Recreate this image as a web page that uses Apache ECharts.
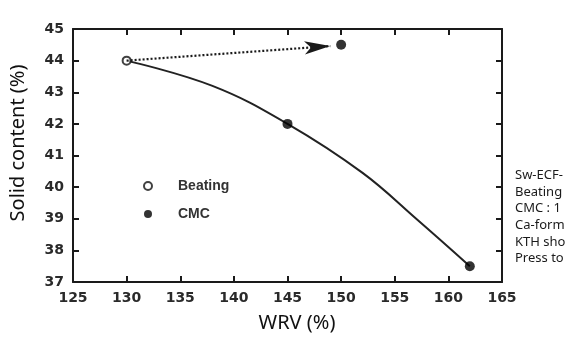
<!DOCTYPE html>
<html><head><meta charset="utf-8">
<script src="https://cdn.jsdelivr.net/npm/echarts@6/dist/echarts.min.js"></script>
<style>html,body{margin:0;padding:0;background:#fff}#c{width:565px;height:341px}</style>
</head><body><div id="c"></div>
<script>
const beating = [[130, 44]];
const cmc = [[145, 42], [150, 44.5], [162, 37.5]];
const curve = [[130, 44], [138, 43.2], [145, 42], [152, 40.45], [157, 39.0], [162, 37.5]];
const arrowFrom = [130, 44];
const arrowTo = [149, 44.46];
const xTitle = 'WRV (%)';
const yTitle = 'Solid content (%)';
const sideNotes = ['Sw-ECF-', 'Beating', 'CMC : 1', 'Ca-form', 'KTH sho', 'Press to'];

const chart = echarts.init(document.getElementById('c'));
const tickFont = {fontFamily: 'DejaVu Sans', fontWeight: 'bold', fontSize: 14, color: '#2a2a2a'};
const axisLine = {show: true, lineStyle: {color: '#1a1a1a', width: 2}};
const tick = {inside: true, length: 6, lineStyle: {color: '#1a1a1a', width: 2}};
chart.setOption({
  animation: false,
  backgroundColor: '#fff',
  grid: {left: 73, top: 29, right: 63, bottom: 59},
  legend: {
    data: ['Beating', 'CMC'], orient: 'vertical', left: 143, top: 179, itemGap: 14, padding: 0,
    itemWidth: 8, itemHeight: 8,
    textStyle: {fontFamily: 'Liberation Sans', fontWeight: 'bold', fontSize: 14, color: '#333', padding: [0, 0, 0, 21]}
  },
  xAxis: [{
    type: 'value', min: 125, max: 165, interval: 5, position: 'bottom',
    axisLine: axisLine, axisTick: tick,
    axisLabel: Object.assign({margin: 9}, tickFont), splitLine: {show: false}
  }, {
    type: 'value', min: 125, max: 165, interval: 5, position: 'top',
    axisLine: axisLine, axisTick: tick,
    axisLabel: {show: false}, splitLine: {show: false}
  }],
  yAxis: [{
    type: 'value', min: 37, max: 45, interval: 1, position: 'left',
    axisLine: axisLine, axisTick: tick,
    axisLabel: Object.assign({margin: 9}, tickFont), splitLine: {show: false}
  }, {
    type: 'value', min: 37, max: 45, interval: 1, position: 'right',
    axisLine: axisLine, axisTick: tick,
    axisLabel: {show: false}, splitLine: {show: false}
  }],
  graphic: [
    {type: 'text', x: 297, y: 323, style: {text: xTitle, font: '20px "Noto Sans"', fill: '#111', align: 'center', verticalAlign: 'middle'}},
    {type: 'text', x: 18, y: 143, rotation: Math.PI / 2, style: {text: yTitle, font: '20px "Noto Sans"', fill: '#111', align: 'center', verticalAlign: 'middle'}}
  ].concat(sideNotes.map((t, i) => ({
    type: 'text', left: 515, top: 169 + i * 16.6,
    style: {text: t, font: '13px "Noto Sans"', fill: '#1a1a1a'}
  }))),
  series: [
    {
      name: 'curve', type: 'line', data: curve, smooth: 0.4, symbol: 'none',
      lineStyle: {color: '#222', width: 2}, z: 1,
      markLine: {
        silent: true, symbol: ['none', 'arrow'], symbolSize: [10, 26],
        label: {show: false},
        lineStyle: {type: [2, 2], color: '#1a1a1a', width: 2.2},
        data: [[{coord: arrowFrom}, {coord: arrowTo}]]
      }
    },
    {
      name: 'Beating', type: 'scatter', data: beating, symbol: 'circle', symbolSize: 8,
      itemStyle: {color: '#fff', borderColor: '#111', borderWidth: 2}, z: 3
    },
    {
      name: 'CMC', type: 'scatter', data: cmc, symbol: 'circle', symbolSize: 10,
      itemStyle: {color: '#000'}, z: 3
    }
  ]
});
</script></body></html>
